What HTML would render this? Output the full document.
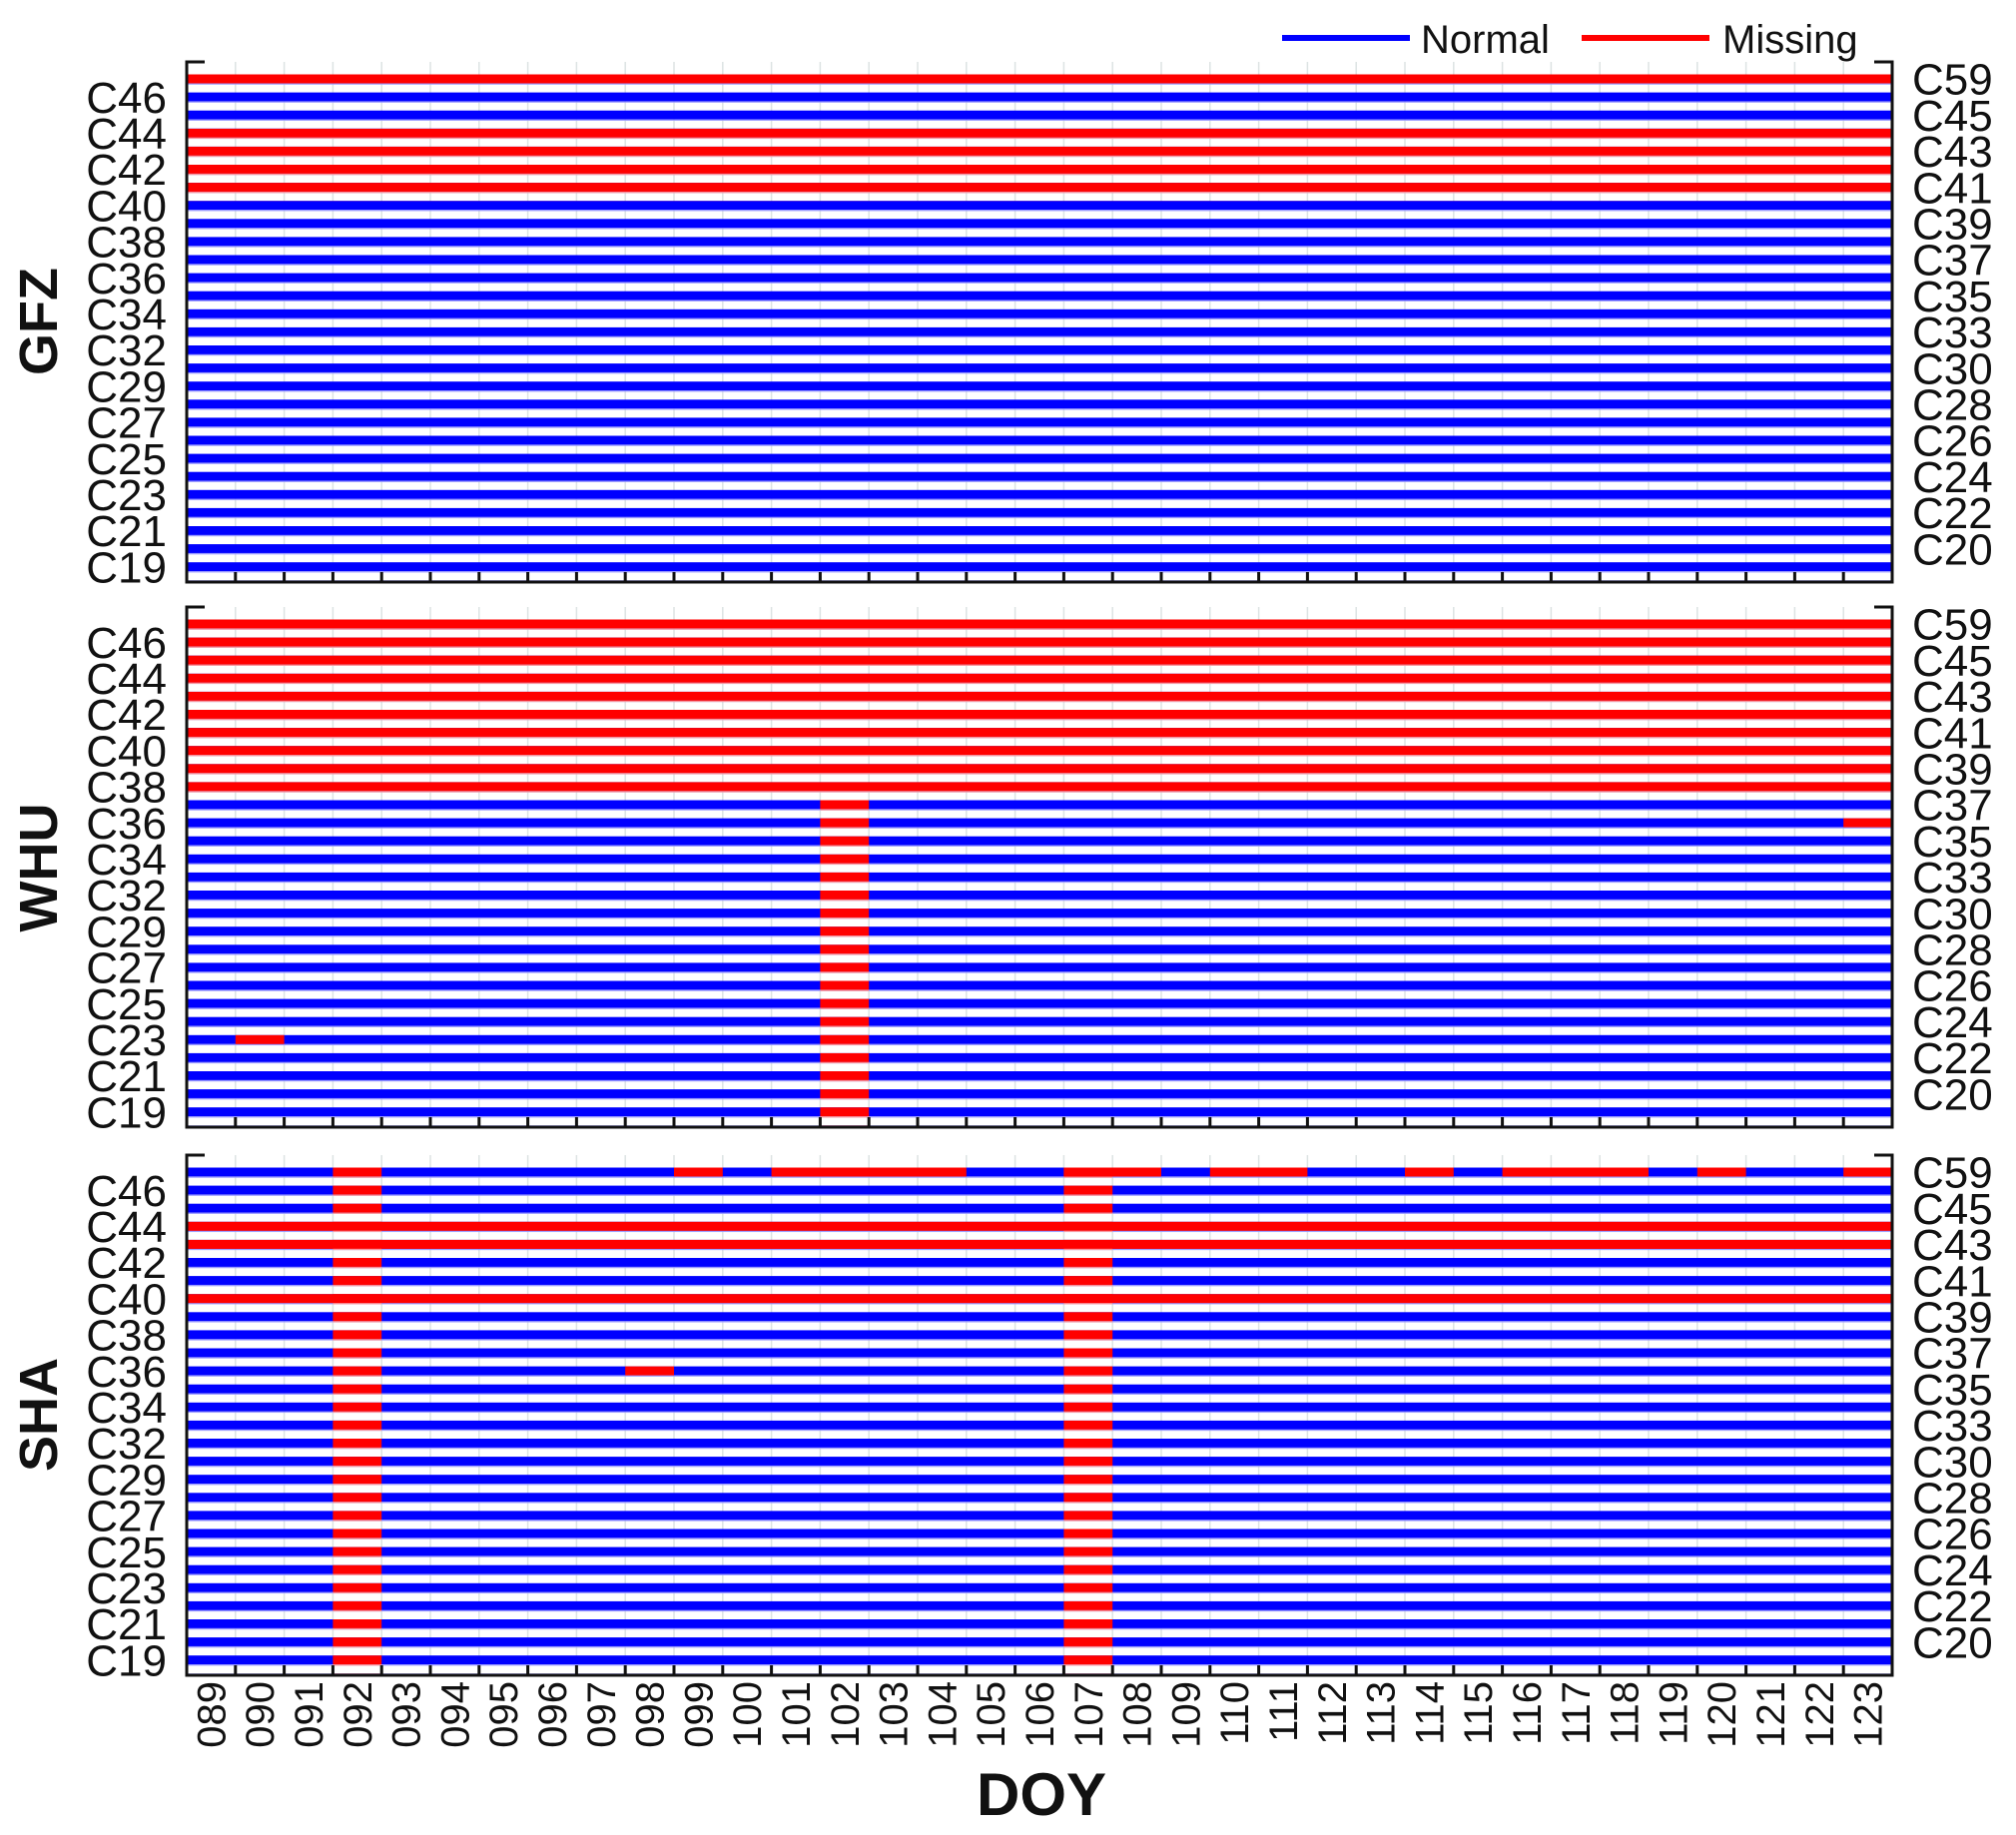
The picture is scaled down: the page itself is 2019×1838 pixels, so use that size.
<!DOCTYPE html>
<html><head><meta charset="utf-8"><style>
html,body{margin:0;padding:0;background:#fff;}
svg{display:block;}
text{font-family:"Liberation Sans",Arial,sans-serif;fill:#111;}
</style></head><body>
<svg width="2019" height="1838" viewBox="0 0 2019 1838" xmlns="http://www.w3.org/2000/svg">
<defs>
<pattern id="b" patternUnits="userSpaceOnUse" x="0" y="0" width="2019" height="18.1"><rect x="0" y="0" width="2019" height="9" fill="#0000ff"/><rect x="0" y="-1" width="2019" height="1" fill="#9999ff"/><rect x="0" y="9" width="2019" height="1.2" fill="#9999ff"/></pattern>
<pattern id="r" patternUnits="userSpaceOnUse" x="0" y="0" width="2019" height="18.1"><rect x="0" y="0" width="2019" height="9" fill="#ff0000"/><rect x="0" y="9" width="2019" height="1.2" fill="#ff9999"/></pattern>
<g id="grid" stroke="#dde3e3" stroke-width="1.5">
<path d="M235.8 -12.5V508.5M284.6 -12.5V508.5M333.4 -12.5V508.5M382.2 -12.5V508.5M431 -12.5V508.5M479.8 -12.5V508.5M528.6 -12.5V508.5M577.4 -12.5V508.5M626.2 -12.5V508.5M675 -12.5V508.5M723.8 -12.5V508.5M772.6 -12.5V508.5M821.4 -12.5V508.5M870.2 -12.5V508.5M919 -12.5V508.5M967.8 -12.5V508.5M1016.6 -12.5V508.5M1065.4 -12.5V508.5M1114.2 -12.5V508.5M1163 -12.5V508.5M1211.8 -12.5V508.5M1260.6 -12.5V508.5M1309.4 -12.5V508.5M1358.2 -12.5V508.5M1407 -12.5V508.5M1455.8 -12.5V508.5M1504.6 -12.5V508.5M1553.4 -12.5V508.5M1602.2 -12.5V508.5M1651 -12.5V508.5M1699.8 -12.5V508.5M1748.6 -12.5V508.5M1797.4 -12.5V508.5M1846.2 -12.5V508.5"/>
</g>
<g id="frame" fill="none" stroke="#111" stroke-width="3">
<path d="M205 -12.5H187V508.5H1895V-12.5H1877"/>
<path d="M235.8 508.5v-10M284.6 508.5v-10M333.4 508.5v-10M382.2 508.5v-10M431 508.5v-10M479.8 508.5v-10M528.6 508.5v-10M577.4 508.5v-10M626.2 508.5v-10M675 508.5v-10M723.8 508.5v-10M772.6 508.5v-10M821.4 508.5v-10M870.2 508.5v-10M919 508.5v-10M967.8 508.5v-10M1016.6 508.5v-10M1065.4 508.5v-10M1114.2 508.5v-10M1163 508.5v-10M1211.8 508.5v-10M1260.6 508.5v-10M1309.4 508.5v-10M1358.2 508.5v-10M1407 508.5v-10M1455.8 508.5v-10M1504.6 508.5v-10M1553.4 508.5v-10M1602.2 508.5v-10M1651 508.5v-10M1699.8 508.5v-10M1748.6 508.5v-10M1797.4 508.5v-10M1846.2 508.5v-10"/>
</g>
</defs>

<!-- Legend -->
<rect x="1284" y="35" width="128" height="6" fill="#0000ff"/>
<text x="1423" y="53" font-size="40">Normal</text>
<rect x="1584" y="35" width="128" height="6" fill="#ff0000"/>
<text x="1725" y="53" font-size="40">Missing</text>

<!-- Panel titles -->
<text transform="translate(57,322) rotate(-90)" text-anchor="middle" font-size="54" font-weight="bold">GFZ</text>
<text transform="translate(57,869) rotate(-90)" text-anchor="middle" font-size="54" font-weight="bold">WHU</text>
<text transform="translate(57,1417) rotate(-90)" text-anchor="middle" font-size="54" font-weight="bold">SHA</text>

<!-- GFZ -->
<g transform="translate(0,74.5)">
<use href="#grid"/>
<rect x="187" y="0" width="1708" height="506.8" fill="url(#b)"/>
<rect x="187" y="0" width="1708" height="9" fill="#ff0000"/>
<rect x="187" y="54.3" width="1708" height="72.4" fill="url(#r)"/>
<use href="#frame"/>
<g font-size="44" text-anchor="end">
<text x="167" y="38.3">C46</text><text x="167" y="74.5">C44</text><text x="167" y="110.7">C42</text><text x="167" y="146.9">C40</text><text x="167" y="183.1">C38</text><text x="167" y="219.3">C36</text><text x="167" y="255.5">C34</text><text x="167" y="291.7">C32</text><text x="167" y="327.9">C29</text><text x="167" y="364.1">C27</text><text x="167" y="400.3">C25</text><text x="167" y="436.5">C23</text><text x="167" y="472.7">C21</text><text x="167" y="508.9">C19</text>
</g>
<g font-size="44">
<text x="1915" y="20.2">C59</text><text x="1915" y="56.4">C45</text><text x="1915" y="92.6">C43</text><text x="1915" y="128.8">C41</text><text x="1915" y="165">C39</text><text x="1915" y="201.2">C37</text><text x="1915" y="237.4">C35</text><text x="1915" y="273.6">C33</text><text x="1915" y="309.8">C30</text><text x="1915" y="346">C28</text><text x="1915" y="382.2">C26</text><text x="1915" y="418.4">C24</text><text x="1915" y="454.6">C22</text><text x="1915" y="490.8">C20</text>
</g>
</g>

<!-- WHU -->
<g transform="translate(0,620.5)">
<use href="#grid"/>
<rect x="187" y="0" width="1708" height="506.8" fill="url(#b)"/>
<rect x="187" y="0" width="1708" height="181" fill="url(#r)"/>
<rect x="821.4" y="181" width="48.8" height="325.8" fill="url(#r)"/>
<rect x="1846.2" y="199.1" width="48.8" height="9" fill="#ff0000"/>
<rect x="235.8" y="416.3" width="48.8" height="9" fill="#ff0000"/>
<use href="#frame"/>
<g font-size="44" text-anchor="end">
<text x="167" y="38.3">C46</text><text x="167" y="74.5">C44</text><text x="167" y="110.7">C42</text><text x="167" y="146.9">C40</text><text x="167" y="183.1">C38</text><text x="167" y="219.3">C36</text><text x="167" y="255.5">C34</text><text x="167" y="291.7">C32</text><text x="167" y="327.9">C29</text><text x="167" y="364.1">C27</text><text x="167" y="400.3">C25</text><text x="167" y="436.5">C23</text><text x="167" y="472.7">C21</text><text x="167" y="508.9">C19</text>
</g>
<g font-size="44">
<text x="1915" y="20.2">C59</text><text x="1915" y="56.4">C45</text><text x="1915" y="92.6">C43</text><text x="1915" y="128.8">C41</text><text x="1915" y="165">C39</text><text x="1915" y="201.2">C37</text><text x="1915" y="237.4">C35</text><text x="1915" y="273.6">C33</text><text x="1915" y="309.8">C30</text><text x="1915" y="346">C28</text><text x="1915" y="382.2">C26</text><text x="1915" y="418.4">C24</text><text x="1915" y="454.6">C22</text><text x="1915" y="490.8">C20</text>
</g>
</g>

<!-- SHA -->
<g transform="translate(0,1169.5)">
<use href="#grid"/>
<rect x="187" y="0" width="1708" height="506.8" fill="url(#b)"/>
<rect x="187" y="54.3" width="1708" height="9" fill="#ff0000"/>
<rect x="187" y="72.4" width="1708" height="9" fill="#ff0000"/>
<rect x="187" y="126.7" width="1708" height="9" fill="#ff0000"/>
<rect x="333.4" y="0" width="48.8" height="506.8" fill="url(#r)"/>
<rect x="1065.4" y="0" width="48.8" height="506.8" fill="url(#r)"/>
<g fill="#ff0000">
<rect x="675" y="0" width="48.8" height="9"/>
<rect x="772.6" y="0" width="195.2" height="9"/>
<rect x="1065.4" y="0" width="97.6" height="9"/>
<rect x="1211.8" y="0" width="97.6" height="9"/>
<rect x="1407" y="0" width="48.8" height="9"/>
<rect x="1504.6" y="0" width="146.4" height="9"/>
<rect x="1699.8" y="0" width="48.8" height="9"/>
<rect x="1846.2" y="0" width="48.8" height="9"/>
<rect x="626.2" y="199.1" width="48.8" height="9"/>
</g>
<use href="#frame"/>
<g font-size="44" text-anchor="end">
<text x="167" y="38.3">C46</text><text x="167" y="74.5">C44</text><text x="167" y="110.7">C42</text><text x="167" y="146.9">C40</text><text x="167" y="183.1">C38</text><text x="167" y="219.3">C36</text><text x="167" y="255.5">C34</text><text x="167" y="291.7">C32</text><text x="167" y="327.9">C29</text><text x="167" y="364.1">C27</text><text x="167" y="400.3">C25</text><text x="167" y="436.5">C23</text><text x="167" y="472.7">C21</text><text x="167" y="508.9">C19</text>
</g>
<g font-size="44">
<text x="1915" y="20.2">C59</text><text x="1915" y="56.4">C45</text><text x="1915" y="92.6">C43</text><text x="1915" y="128.8">C41</text><text x="1915" y="165">C39</text><text x="1915" y="201.2">C37</text><text x="1915" y="237.4">C35</text><text x="1915" y="273.6">C33</text><text x="1915" y="309.8">C30</text><text x="1915" y="346">C28</text><text x="1915" y="382.2">C26</text><text x="1915" y="418.4">C24</text><text x="1915" y="454.6">C22</text><text x="1915" y="490.8">C20</text>
</g>
</g>

<!-- X tick labels -->
<g font-size="40" text-anchor="end">
<text transform="translate(225.4,1684) rotate(-90)">089</text>
<text transform="translate(274.2,1684) rotate(-90)">090</text>
<text transform="translate(323,1684) rotate(-90)">091</text>
<text transform="translate(371.8,1684) rotate(-90)">092</text>
<text transform="translate(420.6,1684) rotate(-90)">093</text>
<text transform="translate(469.4,1684) rotate(-90)">094</text>
<text transform="translate(518.2,1684) rotate(-90)">095</text>
<text transform="translate(567,1684) rotate(-90)">096</text>
<text transform="translate(615.8,1684) rotate(-90)">097</text>
<text transform="translate(664.6,1684) rotate(-90)">098</text>
<text transform="translate(713.4,1684) rotate(-90)">099</text>
<text transform="translate(762.2,1684) rotate(-90)">100</text>
<text transform="translate(811,1684) rotate(-90)">101</text>
<text transform="translate(859.8,1684) rotate(-90)">102</text>
<text transform="translate(908.6,1684) rotate(-90)">103</text>
<text transform="translate(957.4,1684) rotate(-90)">104</text>
<text transform="translate(1006.2,1684) rotate(-90)">105</text>
<text transform="translate(1055,1684) rotate(-90)">106</text>
<text transform="translate(1103.8,1684) rotate(-90)">107</text>
<text transform="translate(1152.6,1684) rotate(-90)">108</text>
<text transform="translate(1201.4,1684) rotate(-90)">109</text>
<text transform="translate(1250.2,1684) rotate(-90)">110</text>
<text transform="translate(1299,1684) rotate(-90)">111</text>
<text transform="translate(1347.8,1684) rotate(-90)">112</text>
<text transform="translate(1396.6,1684) rotate(-90)">113</text>
<text transform="translate(1445.4,1684) rotate(-90)">114</text>
<text transform="translate(1494.2,1684) rotate(-90)">115</text>
<text transform="translate(1543,1684) rotate(-90)">116</text>
<text transform="translate(1591.8,1684) rotate(-90)">117</text>
<text transform="translate(1640.6,1684) rotate(-90)">118</text>
<text transform="translate(1689.4,1684) rotate(-90)">119</text>
<text transform="translate(1738.2,1684) rotate(-90)">120</text>
<text transform="translate(1787,1684) rotate(-90)">121</text>
<text transform="translate(1835.8,1684) rotate(-90)">122</text>
<text transform="translate(1884.6,1684) rotate(-90)">123</text>
</g>

<text x="1043" y="1818" font-size="60" font-weight="bold" text-anchor="middle">DOY</text>
</svg>
</body></html>
